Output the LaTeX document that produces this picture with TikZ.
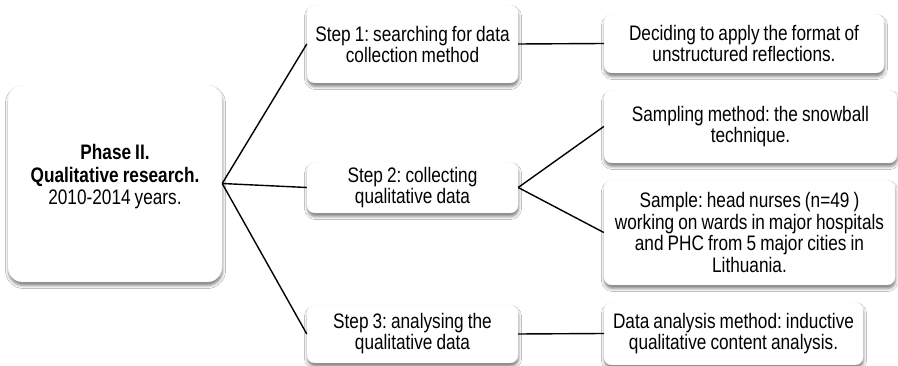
\documentclass[tikz,border=0pt]{standalone}
\usepackage{fontspec}
\setmainfont{Liberation Sans}[FakeStretch=0.82, WordSpace=0.85]
\usetikzlibrary{shadows.blur}
\frenchspacing
\tikzset{
  box/.style={rectangle, rounded corners=8pt, fill=white, draw=black!5, line width=0.4pt,
    align=center, inner sep=0pt,
    font=\fontsize{21}{21}\selectfont\frenchspacing,
    blur shadow={shadow xshift=0.5pt, shadow yshift=-3.5pt, shadow blur radius=3pt, shadow opacity=50}},
  txt/.style={align=center, inner sep=0pt, font=\fontsize{21}{22.5}\selectfont\frenchspacing},
  conn/.style={draw=black, line width=1.4pt}
}
\begin{document}
\begin{tikzpicture}[x=1pt,y=-1pt]
\useasboundingbox (0,0) rectangle (898,366);
\fill[white] (0,0) rectangle (898,366);
\node[box, rounded corners=15pt, minimum width=214pt, minimum height=197pt] (phase) at (115,183.5) {};
\node[txt] (phasetxt) at (115,177)
  {\textbf{Phase II.}\\ \textbf{Qualitative research.}\\ 2010-2014 years.};
\node[box, minimum width=211pt, minimum height=78pt] (s1) at (412.5,44)
  {Step 1: searching for data\\ collection method};
\node[box, minimum width=211pt, minimum height=51pt] (s2) at (412.5,187.5)
  {Step 2: collecting\\ qualitative data};
\node[box, minimum width=211pt, minimum height=58pt] (s3) at (412.5,334)
  {Step 3: analysing the\\ qualitative data};
\node[box, minimum width=280pt, minimum height=59pt] (r1) at (744,43.5)
  {Deciding to apply the format of\\ unstructured reflections.};
\node[box, minimum width=293pt, minimum height=73pt] (r2) at (750.5,126.5)
  {Sampling method: the snowball\\ technique.};
\node[box, minimum width=291pt, minimum height=105pt,
  font=\fontsize{21}{21.7}\selectfont\frenchspacing] (r3) at (749.5,232.5)
  {Sample: head nurses (n=49 )\\ working on wards in major hospitals\\ and PHC from 5 major cities in\\ Lithuania.};
\node[box, minimum width=259pt, minimum height=63pt] (r4) at (733.5,333.5)
  {Data analysis method: inductive\\ qualitative content analysis.};
\draw[conn] (phase.east) -- (s1.west);
\draw[conn] (phase.east) -- (s2.west);
\draw[conn] (phase.east) -- (s3.west);
\draw[conn] (s1.east) -- (r1.west);
\draw[conn] (s2.east) -- (r2.west);
\draw[conn] (s2.east) -- (r3.west);
\draw[conn] (s3.east) -- (r4.west);
\end{tikzpicture}
\end{document}
